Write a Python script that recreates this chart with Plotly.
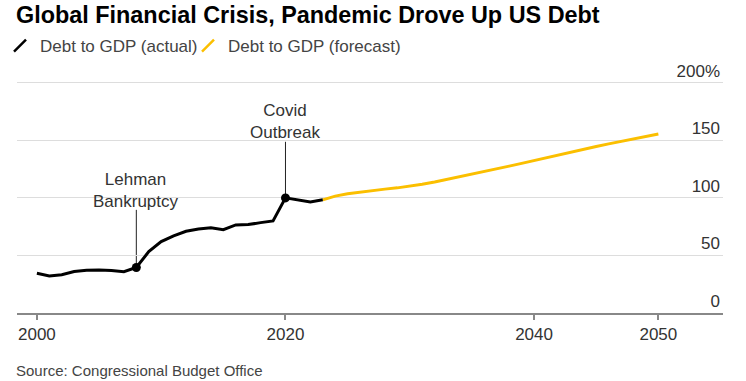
import plotly.graph_objects as go

# ---- data ----
actual_years = list(range(2000, 2024))
actual_values = [34.5, 32.2, 33.3, 36.0, 37.1, 37.4, 37.0, 35.9, 39.5, 53.3,
                 62.0, 67.0, 71.0, 73.0, 74.0, 72.3, 76.5, 76.8, 78.5, 80.0,
                 100.0, 98.0, 96.5, 98.3]
forecast_years = list(range(2023, 2051))
forecast_values = [98.3, 101.5, 103.5, 105.0, 106.3, 107.6, 108.7, 110.0, 111.8, 113.8,
                   116.0, 118.2, 120.5, 122.8, 125.2, 127.6, 130.0, 132.5, 135.0, 137.6,
                   140.0, 142.3, 144.6, 146.9, 149.2, 151.4, 153.5, 155.5]
event_years = [2008, 2020]
event_values = [39.5, 100.0]
event_labels = ["Lehman<br>Bankruptcy", "Covid<br>Outbreak"]
event_line_top = [89.6, 148.7]
event_text_y = [106.1, 166.1]

x_tickvals = [2000, 2020, 2040, 2050]
y_tickvals = [0, 50, 100, 150, 200]
y_ticktext = ["0", "50", "100", "150", "200%"]

BLACK = "#000000"
YELLOW = "#FBBF00"
FONT = "Liberation Sans, Arial, Helvetica, sans-serif"

Y_MAX = 205
PLOT_TOP = 77
PLOT_BOTTOM = 313

fig = go.Figure()

fig.add_trace(go.Scatter(x=forecast_years, y=forecast_values, mode="lines",
                         line=dict(color=YELLOW, width=3), showlegend=False,
                         hoverinfo="skip"))
fig.add_trace(go.Scatter(x=actual_years, y=actual_values, mode="lines",
                         line=dict(color=BLACK, width=3), showlegend=False,
                         hoverinfo="skip"))
fig.add_trace(go.Scatter(x=event_years, y=event_values, mode="markers",
                         marker=dict(color=BLACK, size=9), showlegend=False,
                         hoverinfo="skip"))

# legend entries with slash icons (one legend each, for precise placement)
fig.add_trace(go.Scatter(x=[None], y=[None], mode="markers", name="Debt to GDP (actual)",
                         legend="legend",
                         marker=dict(symbol="line-ne", size=12,
                                     line=dict(color=BLACK, width=2.5))))
fig.add_trace(go.Scatter(x=[None], y=[None], mode="markers", name="Debt to GDP (forecast)",
                         legend="legend2",
                         marker=dict(symbol="line-ne", size=12,
                                     line=dict(color=YELLOW, width=2.5))))

# event leader lines and labels
for yr, val, top, label, ty in zip(event_years, event_values, event_line_top,
                                    event_labels, event_text_y):
    fig.add_shape(type="line", x0=yr, x1=yr, y0=val, y1=top, xref="x", yref="y",
                  line=dict(color="#222222", width=1), layer="below")
    fig.add_annotation(x=yr, y=ty, xref="x", yref="y", text=label, showarrow=False,
                       xanchor="center", yanchor="middle",
                       font=dict(size=17, color="#333333", family=FONT))

plot_h = PLOT_BOTTOM - PLOT_TOP
fig.add_annotation(text="Source: Congressional Budget Office", xref="paper", yref="paper",
                   x=-3 / 706, y=-(370 - PLOT_BOTTOM) / plot_h, xanchor="left",
                   yanchor="middle", showarrow=False,
                   font=dict(size=15, color="#444444", family=FONT))

legend_common = dict(orientation="h", xref="container", yref="container",
                     y=1 - 46 / 381, xanchor="left", yanchor="middle",
                     font=dict(size=17, color="#444444", family=FONT),
                     bgcolor="rgba(0,0,0,0)", itemclick=False, itemdoubleclick=False)

fig.update_layout(
    width=746, height=381,
    margin=dict(l=17, r=23, t=PLOT_TOP, b=381 - PLOT_BOTTOM, autoexpand=False),
    paper_bgcolor="white", plot_bgcolor="white",
    font=dict(family=FONT, color="#333333"),
    title=dict(text="<b>Global Financial Crisis, Pandemic Drove Up US Debt</b>",
               x=16 / 746, xanchor="left", xref="container",
               y=1 - 15 / 381, yanchor="middle", yref="container",
               font=dict(size=23.4, color="#000000", family=FONT)),
    legend=dict(x=-2 / 746, **legend_common),
    legend2=dict(x=188 / 746, **legend_common),
    xaxis=dict(range=[1998.4, 2055.2], tickvals=x_tickvals, showgrid=False,
               automargin=False,
               zeroline=False, showline=True, linecolor="#888888", linewidth=2,
               ticks="outside", ticklen=5, tickwidth=1.5, tickcolor="#888888",
               tickfont=dict(size=17, color="#333333", family=FONT)),
    yaxis=dict(range=[0, Y_MAX], tickvals=y_tickvals, ticktext=y_ticktext, side="right",
               automargin=False,
               ticklabelposition="inside top", ticklabeloverflow="allow",
               showgrid=True, gridcolor="#DDDDDD",
               gridwidth=1, zeroline=False, showline=False, ticks="",
               tickfont=dict(size=17, color="#333333", family=FONT)),
)

fig.write_html("out.html", config={"displayModeBar": False},
               post_script="document.body.style.margin='0';")
